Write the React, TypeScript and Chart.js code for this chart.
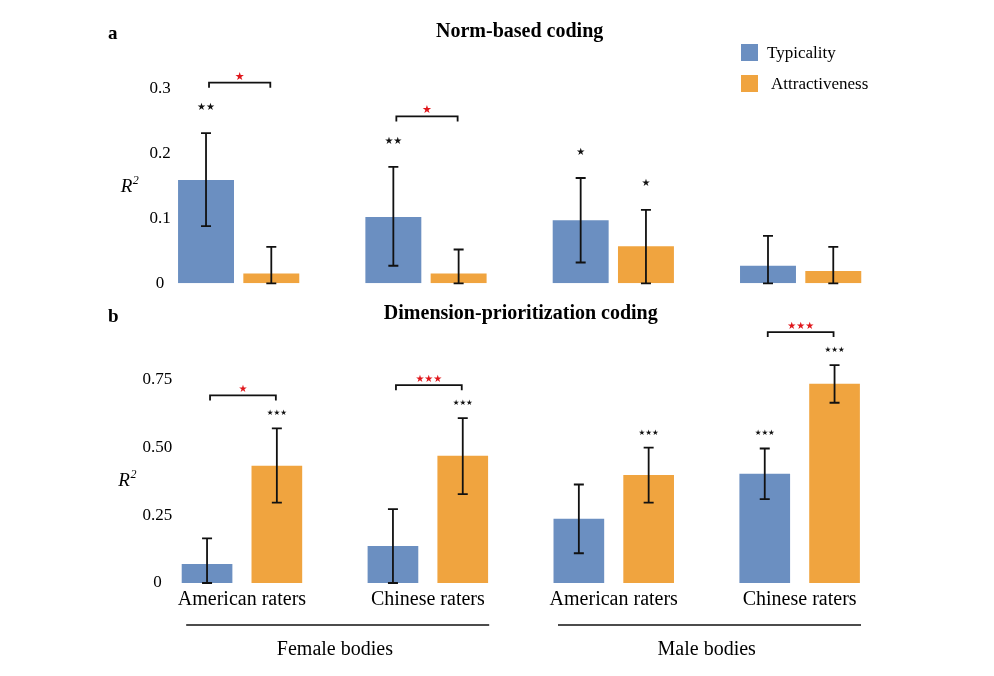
import React, { useEffect, useRef } from 'react';
import { Chart, registerables } from 'chart.js';

Chart.register(...registerables);
Chart.defaults.font.family = "'Liberation Serif', 'Times New Roman', serif";
Chart.defaults.color = '#000';

// ---------- shared ----------
const CATEGORIES = ['American raters', 'Chinese raters', 'American raters', 'Chinese raters'];
const BODY_GROUPS = ['Female bodies', 'Male bodies'];
const SERIES = ['Typicality', 'Attractiveness'];
const COLORS = ['#6B8FC1', '#F0A43F'];

// ---------- panel a: Norm-based coding ----------
const NORM_TYPICALITY = [0.159, 0.102, 0.097, 0.027];
const NORM_ATTRACTIVENESS = [0.015, 0.015, 0.057, 0.019];
const NORM_TYP_CI_LOW = [0.088, 0.027, 0.032, 0.0];
const NORM_TYP_CI_HIGH = [0.231, 0.179, 0.162, 0.073];
const NORM_ATT_CI_LOW = [0.0, 0.0, 0.0, 0.0];
const NORM_ATT_CI_HIGH = [0.056, 0.052, 0.113, 0.056];
const NORM_TYP_SIG = ['**', '**', '*', ''];
const NORM_ATT_SIG = ['', '', '*', ''];
const NORM_DIFF_SIG = ['*', '*', '', ''];
const NORM_TICKS = [0, 0.1, 0.2, 0.3];
const NORM_TICK_LABELS = ['0', '0.1', '0.2', '0.3'];

// ---------- panel b: Dimension-prioritization coding ----------
const DIM_TYPICALITY = [0.07, 0.137, 0.237, 0.404];
const DIM_ATTRACTIVENESS = [0.433, 0.47, 0.399, 0.736];
const DIM_TYP_CI_LOW = [0.0, 0.0, 0.11, 0.31];
const DIM_TYP_CI_HIGH = [0.165, 0.273, 0.364, 0.497];
const DIM_ATT_CI_LOW = [0.297, 0.328, 0.297, 0.666];
const DIM_ATT_CI_HIGH = [0.571, 0.609, 0.5, 0.805];
const DIM_TYP_SIG = ['', '', '', '***'];
const DIM_ATT_SIG = ['***', '***', '***', '***'];
const DIM_DIFF_SIG = ['*', '***', '', '***'];
const DIM_TICKS = [0, 0.25, 0.5, 0.75];
const DIM_TICK_LABELS = ['0', '0.25', '0.50', '0.75'];

const STAR_FONT = "'DejaVu Sans', sans-serif";
const toStars = (s: string) => s.replace(/\*/g, '\u2605');

// error bars, significance stars and brackets
const annotPlugin = {
  id: 'annot',
  afterDatasetsDraw(chart: any, _args: any, o: any) {
    const ctx = chart.ctx;
    const ys = chart.scales.y;
    const metas = [chart.getDatasetMeta(0), chart.getDatasetMeta(1)];
    const tops: number[][] = [[], []];
    ctx.save();
    ctx.strokeStyle = '#111';
    ctx.lineWidth = 1.8;
    for (let s = 0; s < 2; s++) {
      for (let i = 0; i < o.low[s].length; i++) {
        const el = metas[s].data[i];
        const cx = el.x;
        const yt = ys.getPixelForValue(o.high[s][i]);
        const yb = ys.getPixelForValue(o.low[s][i]);
        tops[s][i] = yt;
        ctx.beginPath();
        ctx.moveTo(cx, yt);
        ctx.lineTo(cx, yb);
        ctx.moveTo(cx - o.cap, yt);
        ctx.lineTo(cx + o.cap, yt);
        ctx.moveTo(cx - o.cap, yb);
        ctx.lineTo(cx + o.cap, yb);
        ctx.stroke();
        const sig = o.sig[s][i];
        if (sig) {
          ctx.fillStyle = '#111';
          ctx.font = `${o.sigSize}px ${STAR_FONT}`;
          ctx.textAlign = 'center';
          ctx.textBaseline = 'middle';
          ctx.fillText(toStars(sig), cx, yt - o.sigGap);
        }
      }
    }
    for (let i = 0; i < o.diff.length; i++) {
      if (!o.diff[i]) continue;
      const x0 = metas[0].data[i].x + 3;
      const x1 = metas[1].data[i].x - 1;
      const yb = Math.min(tops[0][i], tops[1][i]) - o.bracketGap;
      ctx.beginPath();
      ctx.lineWidth = 1.8;
      ctx.strokeStyle = '#111';
      ctx.moveTo(x0, yb + 5);
      ctx.lineTo(x0, yb);
      ctx.lineTo(x1, yb);
      ctx.lineTo(x1, yb + 5);
      ctx.stroke();
      ctx.fillStyle = '#E0161B';
      ctx.font = `${o.diffSize}px ${STAR_FONT}`;
      ctx.textAlign = 'center';
      ctx.textBaseline = 'middle';
      ctx.fillText(toStars(o.diff[i]), (x0 + x1) / 2, yb - 6);
    }
    ctx.restore();
  },
};

// legend boxes
const boxLegendPlugin = {
  id: 'boxLegend',
  afterDraw(chart: any, _a: any, o: any) {
    if (!o.show) return;
    const ctx = chart.ctx;
    const ca = chart.chartArea;
    ctx.save();
    chart.data.datasets.forEach((ds: any, i: number) => {
      const x = ca.right + o.dx;
      const y = ca.top + o.dy + i * o.gap;
      ctx.fillStyle = ds.backgroundColor;
      ctx.fillRect(x, y, 17, 17);
      ctx.fillStyle = '#000';
      ctx.font = "17px 'Liberation Serif', serif";
      ctx.textAlign = 'left';
      ctx.textBaseline = 'alphabetic';
      ctx.fillText(ds.label, x + 26 + i * 4, y + 13.5);
    });
    ctx.restore();
  },
};

// panel letter and R² label
const panelTextPlugin = {
  id: 'panelText',
  afterDraw(chart: any, _a: any, o: any) {
    const ctx = chart.ctx;
    const ca = chart.chartArea;
    ctx.save();
    ctx.fillStyle = '#000';
    ctx.textBaseline = 'alphabetic';
    ctx.textAlign = 'left';
    ctx.font = "bold 19px 'Liberation Serif', serif";
    ctx.fillText(o.letter, o.letterX, o.letterY);
    const rx = ca.left + o.rDx;
    const ry = (ca.top + ca.bottom) / 2 + o.rDy;
    ctx.font = "italic 19px 'Liberation Serif', serif";
    ctx.fillText('R', rx, ry);
    const w = ctx.measureText('R').width;
    ctx.font = "italic 12px 'Liberation Serif', serif";
    ctx.fillText('2', rx + w + 0.5, ry - 8);
    ctx.restore();
  },
};

// group underline for Female / Male bodies
const groupLinePlugin = {
  id: 'groupLine',
  afterDraw(chart: any, _a: any, o: any) {
    if (!o.show) return;
    const ctx = chart.ctx;
    const xs = chart.scales.x;
    const x2 = chart.scales.x2;
    const per = CATEGORIES.length / BODY_GROUPS.length;
    const w = xs.width / CATEGORIES.length;
    ctx.save();
    ctx.strokeStyle = '#111';
    ctx.lineWidth = 1.6;
    BODY_GROUPS.forEach((_g, g) => {
      const xl = xs.getPixelForTick(g * per) - 0.30 * w;
      const xr = xs.getPixelForTick(g * per + per - 1) + 0.33 * w;
      const y = x2.top + 14;
      ctx.beginPath();
      ctx.moveTo(xl, y);
      ctx.lineTo(xr, y);
      ctx.stroke();
    });
    ctx.restore();
  },
};

function normConfig(): any {
  return {
    type: 'bar',
    data: {
      labels: CATEGORIES,
      datasets: [
        { label: SERIES[0], data: NORM_TYPICALITY, backgroundColor: COLORS[0], categoryPercentage: 0.697, barPercentage: 0.857 },
        { label: SERIES[1], data: NORM_ATTRACTIVENESS, backgroundColor: COLORS[1], categoryPercentage: 0.697, barPercentage: 0.857 },
      ],
    },
    options: {
      responsive: false,
      animation: false,
      layout: { padding: { left: 145, right: 99.7, top: 0, bottom: 16.7 } },
      scales: {
        x: { display: false, offset: true },
        y: {
          min: 0,
          max: 0.3,
          afterBuildTicks: (s: any) => { s.ticks = NORM_TICKS.map((v) => ({ value: v })); },
          afterFit: (s: any) => { s.width = 0; },
          grid: { display: false, drawTicks: false },
          border: { display: false },
          ticks: {
            mirror: true,
            crossAlign: 'center',
            padding: 4.4,
            color: '#000',
            font: { size: 17 },
            callback: (_v: any, i: number) => NORM_TICK_LABELS[i],
          },
        },
      },
      plugins: {
        legend: { display: false },
        tooltip: { enabled: false },
        title: {
          display: true,
          text: 'Norm-based coding',
          color: '#000',
          fullSize: false,
          font: { size: 20, weight: 'bold' },
          padding: { top: 20.25, bottom: 44.05 },
        },
        annot: {
          low: [NORM_TYP_CI_LOW, NORM_ATT_CI_LOW],
          high: [NORM_TYP_CI_HIGH, NORM_ATT_CI_HIGH],
          sig: [NORM_TYP_SIG, NORM_ATT_SIG],
          diff: NORM_DIFF_SIG,
          cap: 5,
          sigSize: 10,
          sigGap: 26,
          diffSize: 11,
          bracketGap: 50.5,
        },
        boxLegend: { show: true, dx: -153.3, dy: -44.3, gap: 31 },
        panelText: { letter: 'a', letterX: 108, letterY: 39, rDx: -24.3, rDy: 6 },
        groupLine: { show: false },
      },
    },
    plugins: [annotPlugin, boxLegendPlugin, panelTextPlugin, groupLinePlugin],
  };
}

function dimConfig(): any {
  return {
    type: 'bar',
    data: {
      labels: CATEGORIES,
      datasets: [
        { label: SERIES[0], data: DIM_TYPICALITY, backgroundColor: COLORS[0], categoryPercentage: 0.751, barPercentage: 0.726 },
        { label: SERIES[1], data: DIM_ATTRACTIVENESS, backgroundColor: COLORS[1], categoryPercentage: 0.751, barPercentage: 0.726 },
      ],
    },
    options: {
      responsive: false,
      animation: false,
      layout: { padding: { left: 149, right: 101.4, top: 0, bottom: 15 } },
      scales: {
        x: {
          offset: true,
          weight: 0,
          grid: { display: false, drawTicks: false },
          border: { display: false },
          ticks: { color: '#000', font: { size: 20 }, padding: 4.25, maxRotation: 0, autoSkip: false },
          afterFit: (s: any) => { s.height = 28; },
        },
        y: {
          min: 0,
          max: 0.75,
          afterBuildTicks: (s: any) => { s.ticks = DIM_TICKS.map((v) => ({ value: v })); },
          afterFit: (s: any) => { s.width = 0; },
          grid: { display: false, drawTicks: false },
          border: { display: false },
          ticks: {
            mirror: true,
            crossAlign: 'center',
            padding: -6.4,
            color: '#000',
            font: { size: 17 },
            callback: (_v: any, i: number) => DIM_TICK_LABELS[i],
          },
        },
        x2: {
          type: 'category',
          position: 'bottom',
          labels: BODY_GROUPS,
          offset: true,
          weight: 1,
          grid: { display: false, drawTicks: false },
          border: { display: false },
          ticks: { color: '#000', font: { size: 20 }, padding: 26.25, maxRotation: 0, autoSkip: false },
          afterFit: (s: any) => { s.height = 50; },
        },
      },
      plugins: {
        legend: { display: false },
        tooltip: { enabled: false },
        title: {
          display: true,
          text: 'Dimension-prioritization coding',
          color: '#000',
          fullSize: false,
          font: { size: 20, weight: 'bold' },
          padding: { top: 1.75, bottom: 54.25 },
        },
        annot: {
          low: [DIM_TYP_CI_LOW, DIM_ATT_CI_LOW],
          high: [DIM_TYP_CI_HIGH, DIM_ATT_CI_HIGH],
          sig: [DIM_TYP_SIG, DIM_ATT_SIG],
          diff: DIM_DIFF_SIG,
          cap: 5,
          sigSize: 7.5,
          sigGap: 15,
          diffSize: 10,
          bracketGap: 33,
        },
        boxLegend: { show: false },
        panelText: { letter: 'b', letterX: 108, letterY: 21.7, rDx: -30.7, rDy: 4.5 },
        groupLine: { show: true },
      },
    },
    plugins: [annotPlugin, boxLegendPlugin, panelTextPlugin, groupLinePlugin],
  };
}

function Panel({ makeConfig, top, height }: { makeConfig: () => any; top: number; height: number }) {
  const ref = useRef<HTMLCanvasElement>(null);
  useEffect(() => {
    const chart = new Chart(ref.current as HTMLCanvasElement, makeConfig());
    return () => chart.destroy();
  }, [makeConfig]);
  return (
    <canvas
      ref={ref}
      width={994}
      height={height}
      style={{ position: 'absolute', left: 0, top, width: 994, height }}
    />
  );
}

export default function App() {
  return (
    <div style={{ position: 'absolute', left: 0, top: 0, width: 994, height: 676, background: '#fff', overflow: 'hidden' }}>
      <Panel makeConfig={normConfig} top={0} height={300} />
      <Panel makeConfig={dimConfig} top={300} height={376} />
    </div>
  );
}
